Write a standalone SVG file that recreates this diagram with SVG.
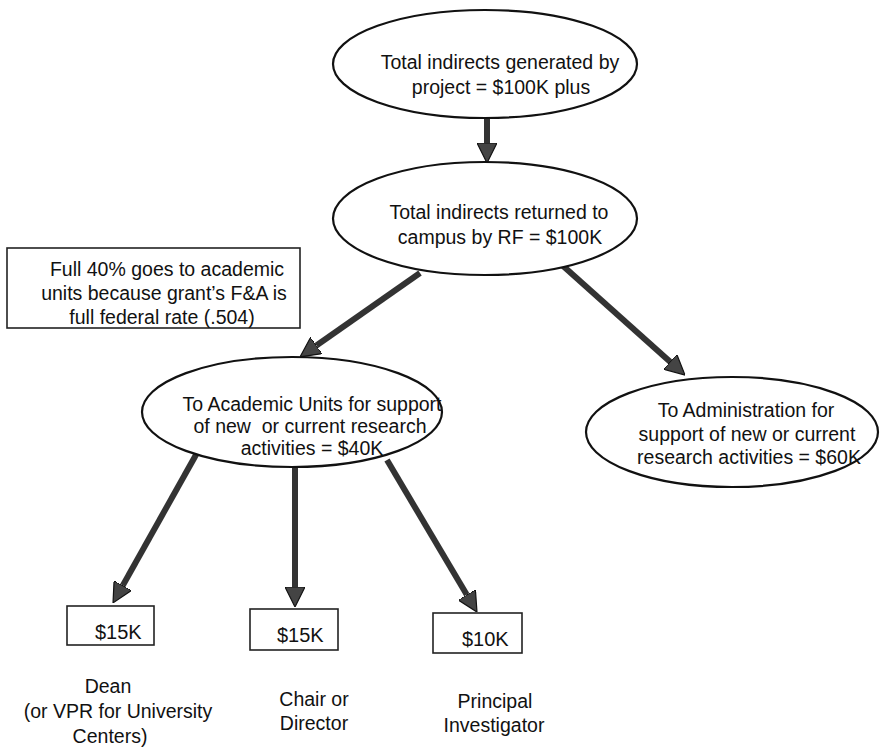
<svg xmlns="http://www.w3.org/2000/svg" width="880" height="749" viewBox="0 0 880 749">
<style>
.bg{fill:#ffffff}
.ell{fill:#ffffff;stroke:#111111;stroke-width:2.2}
.box{fill:#ffffff;stroke:#222222;stroke-width:1.6}
.t{font-family:"Liberation Sans",Arial,sans-serif;font-size:19.5px;fill:#111111;text-anchor:middle}
.ts{font-family:"Liberation Sans",Arial,sans-serif;font-size:20px;fill:#111111}
.arr{stroke:#333333;stroke-width:6;fill:none;marker-end:url(#ah)}
</style>
<defs>
<marker id="ah" markerUnits="userSpaceOnUse" viewBox="0 0 20 20" markerWidth="20" markerHeight="20" refX="0" refY="10" orient="auto">
<path d="M0,0 L20,10 L0,20 Z" fill="#444444" stroke="#111111" stroke-width="1.2"/>
</marker>
</defs>
<rect class="bg" x="0" y="0" width="880" height="749"/>

<g id="connectors">
<path class="arr" d="M487,118 L487,143"/>
<path class="arr" d="M420,273 L316.4,345.5"/>
<path class="arr" d="M562,265 L670.1,361.7"/>
<path class="arr" d="M197,453 L122.8,585.5"/>
<path class="arr" d="M295,467 L295,587"/>
<path class="arr" d="M387,460 L466.8,594.8"/>
</g>

<g id="total-generated">
<ellipse class="ell" cx="485" cy="64" rx="152" ry="54"/>
<text class="t" x="500" y="69">Total indirects generated by</text>
<text class="t" x="501" y="94">project = $100K plus</text>
</g>

<g id="total-returned">
<ellipse class="ell" cx="485" cy="218.5" rx="152" ry="56.5"/>
<text class="t" x="499" y="219">Total indirects returned to</text>
<text class="t" x="500" y="244">campus by RF = $100K</text>
</g>

<g id="note">
<rect class="box" x="7" y="248" width="293" height="80"/>
<text class="t" x="167" y="276">Full 40% goes to academic</text>
<text class="t" x="164" y="300">units because grant’s F&amp;A is</text>
<text class="t" x="162" y="324">full federal rate (.504)</text>
</g>

<g id="academic-units">
<ellipse class="ell" cx="292" cy="412" rx="150" ry="55"/>
<text class="t" x="312" y="411">To Academic Units for support</text>
<text class="t" x="310" y="433" xml:space="preserve">of new  or current research</text>
<text class="t" x="312" y="455">activities = $40K</text>
</g>

<g id="administration">
<ellipse class="ell" cx="732" cy="432" rx="146" ry="55"/>
<text class="t" x="746" y="417">To Administration for</text>
<text class="t" x="747" y="441">support of new or current</text>
<text class="t" x="749" y="464">research activities = $60K</text>
</g>

<g id="dean">
<rect class="box" x="67" y="606" width="87" height="39"/>
<text class="ts" x="95" y="639">$15K</text>
<text class="t" x="108" y="693">Dean</text>
<text class="t" x="118" y="718">(or VPR for University</text>
<text class="t" x="110" y="743">Centers)</text>
</g>

<g id="chair">
<rect class="box" x="250" y="609" width="88" height="41"/>
<text class="ts" x="277" y="642">$15K</text>
<text class="t" x="314" y="706">Chair or</text>
<text class="t" x="314" y="730">Director</text>
</g>

<g id="pi">
<rect class="box" x="433" y="613" width="89" height="40"/>
<text class="ts" x="462" y="646">$10K</text>
<text class="t" x="495" y="708">Principal</text>
<text class="t" x="494" y="732">Investigator</text>
</g>
</svg>
